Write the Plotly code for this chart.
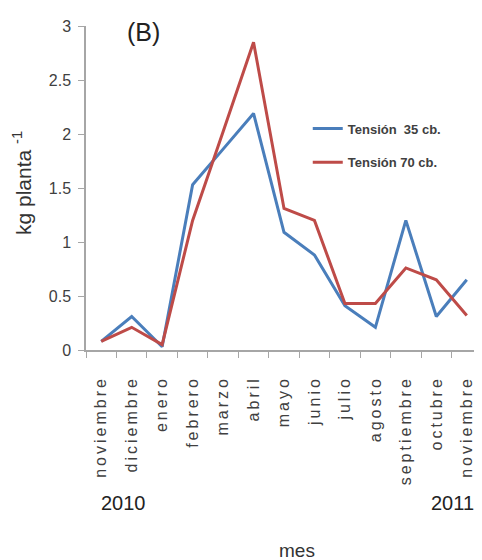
import plotly.graph_objects as go

# Monthly yield, kg per plant
meses = ["noviembre", "diciembre", "enero", "febrero", "marzo", "abril", "mayo",
         "junio", "julio", "agosto", "septiembre", "octubre", "noviembre"]
tension_35 = [0.08, 0.31, 0.03, 1.53, 1.86, 2.19, 1.09, 0.88, 0.41, 0.21, 1.20, 0.31, 0.65]
tension_70 = [0.08, 0.21, 0.05, 1.20, 2.02, 2.85, 1.31, 1.20, 0.43, 0.43, 0.76, 0.65, 0.32]
nombres = ["Tensión  35 cb.", "Tensión 70 cb."]
colores = ["#4a7ebb", "#be4b48"]

x = list(range(len(meses)))
etiquetas = ['<span style="letter-spacing:3px">%s</span>' % m for m in meses]

fig = go.Figure()
for serie, nombre, color, grupo in zip([tension_35, tension_70], nombres, colores, ["a", "b"]):
    fig.add_trace(go.Scatter(
        x=x, y=serie, mode="lines", name=nombre, legendgroup=grupo,
        line=dict(color=color, width=3),
    ))


def nota(texto, px, py, size, color="#222", angle=0):
    # px, py: pixel position in the page; plot area spans x 86-482, y 26-350
    return dict(text=texto, x=(px - 86) / 396, y=(350 - py) / 324,
                xref="paper", yref="paper", xanchor="center", yanchor="middle",
                textangle=angle, showarrow=False, font=dict(size=size, color=color))


eje = "#a6a6a6"
# the page has an 8px body margin, so the figure is 8px smaller on each side
fig.update_layout(
    width=474, height=552,
    margin=dict(l=78, r=0, t=18, b=210),
    plot_bgcolor="white", paper_bgcolor="white",
    font=dict(family="Liberation Sans, Arial, sans-serif", color="#404040"),
    showlegend=True,
    legend=dict(x=0.56, y=0.73, xanchor="left", yanchor="top",
                font=dict(size=13, color="#404040", weight="bold"), tracegroupgap=14,
                bgcolor="rgba(0,0,0,0)"),
    xaxis=dict(
        range=[-0.5, 12.5], tickmode="array", tickvals=x, ticktext=etiquetas,
        tickangle=-90, ticks="", showline=True, linecolor=eje, linewidth=1.5,
        tickfont=dict(size=16, color="#404040"), ticklabelstandoff=18,
        showgrid=False, zeroline=False,
        minor=dict(ticks="outside", ticklen=6, tickcolor=eje, tick0=-0.5, dtick=1,
                   showgrid=False),
    ),
    yaxis=dict(
        range=[0, 3], dtick=0.5, ticks="outside", ticklen=6, tickcolor=eje,
        showline=True, linecolor=eje, linewidth=1.5, showgrid=False, zeroline=False,
        tickfont=dict(size=16, color="#404040"), ticklabelstandoff=4,
    ),
    annotations=[
        nota("(B)", 143, 32, 25),
        nota("kg planta <sup>-1</sup>", 22, 183, 21, "#333", -90),
        nota("2010", 123, 503, 20),
        nota("2011", 452, 503, 20),
        nota("mes", 297, 550, 19, "#333"),
    ],
)

fig.write_html("out.html")
